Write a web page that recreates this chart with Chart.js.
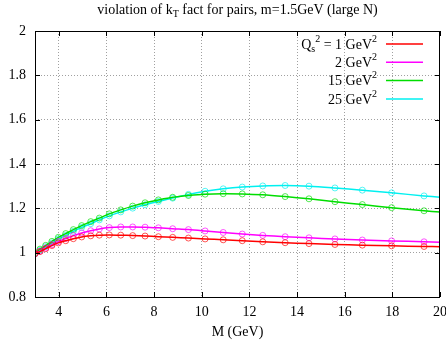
<!DOCTYPE html>
<html>
<head>
<meta charset="utf-8">
<script src="https://cdn.jsdelivr.net/npm/chart.js@4"></script>
<style>
  html, body { margin: 0; padding: 0; background: #fff; }
  #wrap { width: 446px; height: 341px; }
</style>
</head>
<body>
<div id="wrap"><canvas id="chart" width="446" height="341"></canvas></div>
<script>
// M values (GeV) where the curves were sampled
const mValues = [3.0, 3.21, 3.45, 3.71, 3.98, 4.29, 4.61, 4.96, 5.34, 5.70, 6.12, 6.60, 7.10, 7.62,
    8.18, 8.78, 9.44, 10.14, 10.90, 11.70, 12.56, 13.50, 14.50, 15.59, 16.74, 17.97, 19.33, 20.0];

// ratio for each Qs^2
const qs1 = [0.995, 1.005, 1.018, 1.032, 1.044, 1.054, 1.063, 1.071, 1.076, 1.079, 1.080, 1.079, 1.077, 1.075,
    1.072, 1.069, 1.066, 1.062, 1.058, 1.054, 1.049, 1.045, 1.041, 1.037, 1.034, 1.031, 1.028, 1.027];
const qs2 = [0.995, 1.007, 1.021, 1.036, 1.050, 1.064, 1.077, 1.089, 1.099, 1.107, 1.113, 1.116, 1.116, 1.115,
    1.112, 1.108, 1.104, 1.098, 1.091, 1.084, 1.078, 1.072, 1.067, 1.062, 1.057, 1.053, 1.049, 1.047];
const qs15 = [1.0, 1.016, 1.033, 1.051, 1.069, 1.086, 1.104, 1.122, 1.140, 1.156, 1.175, 1.193, 1.210, 1.225,
    1.238, 1.250, 1.258, 1.264, 1.266, 1.265, 1.261, 1.253, 1.243, 1.230, 1.217, 1.203, 1.189, 1.183];
const qs25 = [0.995, 1.011, 1.027, 1.044, 1.062, 1.078, 1.096, 1.114, 1.131, 1.148, 1.166, 1.184, 1.201, 1.216,
    1.231, 1.246, 1.263, 1.277, 1.288, 1.296, 1.301, 1.303, 1.300, 1.292, 1.282, 1.270, 1.256, 1.250];

const xTicks = [4, 6, 8, 10, 12, 14, 16, 18, 20];
const yTicks = [0.8, 1, 1.2, 1.4, 1.6, 1.8, 2];

const legendLabels = ['1', '2', '15', '25'];
const colors = ['#ff0000', '#ff00ff', '#00dd00', '#00f0f0'];

const FONT = '"Liberation Serif", "DejaVu Serif", serif';

function makeSet(values, color) {
    return {
        data: values.map((v, i) => ({ x: mValues[i], y: v })),
        borderColor: color,
        borderWidth: 1.5,
        backgroundColor: 'transparent',
        pointBorderColor: color + 'aa',
        pointBackgroundColor: 'transparent',
        pointBorderWidth: 1,
        // last point only continues the line to the edge, no marker
        pointRadius: ctx => ctx.dataIndex === mValues.length - 1 ? 0 : 3,
        tension: 0.3,
        fill: false
    };
}

// draws a run of text pieces, some raised or lowered
function drawRich(ctx, parts, x, y, align) {
    const size = 14, small = 10;
    let total = 0;
    parts.forEach(p => {
        ctx.font = (p.sub || p.sup ? small : size) + 'px ' + FONT;
        total += ctx.measureText(p.t).width;
    });
    let cx = align === 'right' ? x - total : align === 'center' ? x - total / 2 : x;
    ctx.textAlign = 'left';
    ctx.textBaseline = 'middle';
    parts.forEach(p => {
        ctx.font = (p.sub || p.sup ? small : size) + 'px ' + FONT;
        let dy = p.sub ? 4 : p.sup ? -6 : 0;
        ctx.fillText(p.t, cx, y + dy);
        cx += ctx.measureText(p.t).width;
    });
}

const framePlugin = {
    id: 'frame',
    afterDraw(chart) {
        const ctx = chart.ctx;
        const a = chart.chartArea;
        const xs = chart.scales.x, ys = chart.scales.y;
        ctx.save();
        ctx.strokeStyle = '#000';
        ctx.lineWidth = 1;
        // inward ticks on all four sides
        ctx.beginPath();
        xTicks.forEach(v => {
            const px = Math.round(xs.getPixelForValue(v)) + 0.5;
            ctx.moveTo(px, a.bottom); ctx.lineTo(px, a.bottom - 5);
            ctx.moveTo(px, a.top); ctx.lineTo(px, a.top + 5);
        });
        yTicks.forEach(v => {
            const py = Math.round(ys.getPixelForValue(v)) + 0.5;
            ctx.moveTo(a.left, py); ctx.lineTo(a.left + 5, py);
            ctx.moveTo(a.right, py); ctx.lineTo(a.right - 5, py);
        });
        ctx.stroke();
        ctx.strokeRect(Math.round(a.left) + 0.5, Math.round(a.top) + 0.5,
            Math.round(a.right - a.left) - 1, Math.round(a.bottom - a.top));

        // title
        ctx.fillStyle = '#000';
        drawRich(ctx, [
            { t: 'violation of k' }, { t: 'T', sub: true },
            { t: ' fact for pairs, m=1.5GeV (large N)' }
        ], (a.left + a.right) / 2, 10, 'center');

        // legend, text right-aligned with line sample after it
        const textRight = a.right - 63;
        legendLabels.forEach((lab, i) => {
            const y = a.top + 13 + i * 18.3;
            const parts = i === 0
                ? [{ t: 'Q' }, { t: 's', sub: true }, { t: '2', sup: true }, { t: ' = ' + lab + ' GeV' }, { t: '2', sup: true }]
                : [{ t: lab + ' GeV' }, { t: '2', sup: true }];
            ctx.fillStyle = '#000';
            drawRich(ctx, parts, textRight, y + 1, 'right');
            ctx.strokeStyle = colors[i];
            ctx.lineWidth = 1.5;
            ctx.beginPath();
            ctx.moveTo(a.right - 54, y);
            ctx.lineTo(a.right - 17, y);
            ctx.stroke();
        });
        ctx.restore();
    }
};

new Chart(document.getElementById('chart'), {
    type: 'line',
    data: {
        datasets: [makeSet(qs1, colors[0]), makeSet(qs2, colors[1]), makeSet(qs15, colors[2]), makeSet(qs25, colors[3])]
    },
    options: {
        responsive: false,
        animation: false,
        events: [],
        layout: { autoPadding: false, padding: { top: 31, right: 6, left: 0, bottom: 0 } },
        plugins: {
            legend: { display: false },
            title: { display: false },
            tooltip: { enabled: false }
        },
        scales: {
            x: {
                type: 'linear',
                min: 3,
                max: 20,
                afterBuildTicks: s => { s.ticks = xTicks.map(v => ({ value: v })); },
                afterFit: s => {
                    s.height = 44;
                    // let the "20" label run off the edge like the original
                    s.paddingLeft = 0;
                    s.paddingRight = 0;
                },
                border: { display: false, dash: [1, 2] },
                grid: {
                    drawTicks: false,
                    color: ctx => ctx.tick && ctx.tick.value === 20 ? 'transparent' : '#a0a0a0',
                    lineWidth: 1
                },
                ticks: {
                    padding: 7,
                    maxRotation: 0,
                    color: '#000',
                    font: { family: FONT, size: 14 }
                },
                title: {
                    display: true,
                    text: 'M (GeV)',
                    color: '#000',
                    padding: { top: 2, bottom: 0 },
                    font: { family: FONT, size: 14 }
                }
            },
            y: {
                min: 0.8,
                max: 2,
                afterBuildTicks: s => { s.ticks = yTicks.map(v => ({ value: v })); },
                afterFit: s => {
                    s.width = 35;
                    s.paddingTop = 0;
                    s.paddingBottom = 0;
                },
                border: { display: false, dash: [1, 2] },
                grid: {
                    drawTicks: false,
                    color: '#a0a0a0',
                    lineWidth: 1
                },
                ticks: {
                    padding: 9,
                    color: '#000',
                    font: { family: FONT, size: 14 },
                    callback: v => String(Math.round(v * 10) / 10)
                }
            }
        }
    },
    plugins: [framePlugin]
});
</script>
</body>
</html>
